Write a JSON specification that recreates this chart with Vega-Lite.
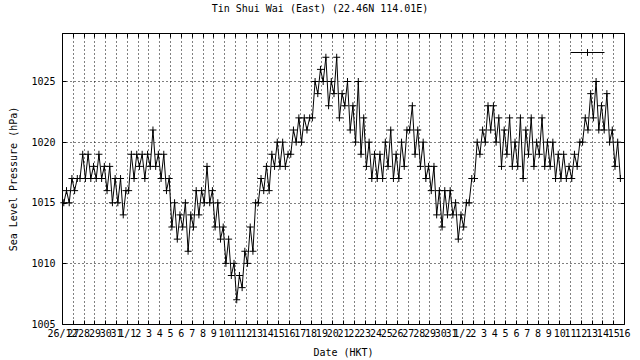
{
  "$schema": "https://vega.github.io/schema/vega-lite/v6.json",
  "width": 562,
  "height": 291,
  "autosize": {"type": "none"},
  "padding": {"left": 62, "top": 33, "right": 16, "bottom": 36},
  "background": "white",
  "title": {
    "text": "Tin Shui Wai (East) (22.46N 114.01E)",
    "font": "DejaVu Sans Mono", "fontSize": 10, "fontWeight": "normal", "color": "black",
    "anchor": "middle", "dx": -23, "offset": 11, "baseline": "alphabetic"
  },
  "config": {
    "view": {"stroke": "black", "strokeWidth": 1},
    "axis": {
      "labelFont": "DejaVu Sans Mono", "labelFontSize": 10, "labelColor": "black",
      "titleFont": "DejaVu Sans Mono", "titleFontSize": 10, "titleFontWeight": "normal", "titleColor": "black",
      "domain": false, "gridColor": "black", "gridDash": [1, 3], "gridOpacity": 1, "gridWidth": 1,
      "tickColor": "black", "tickWidth": 1
    }
  },
  "data": {"values": [
    {"t":"2023-12-26T04:00","p":1015},{"t":"2023-12-26T10:00","p":1016},{"t":"2023-12-26T16:00","p":1015},{"t":"2023-12-26T22:00","p":1017},
    {"t":"2023-12-27T04:00","p":1016},{"t":"2023-12-27T10:00","p":1017},{"t":"2023-12-27T16:00","p":1017},{"t":"2023-12-27T22:00","p":1019},
    {"t":"2023-12-28T04:00","p":1017},{"t":"2023-12-28T10:00","p":1019},{"t":"2023-12-28T16:00","p":1017},{"t":"2023-12-28T22:00","p":1018},
    {"t":"2023-12-29T04:00","p":1017},{"t":"2023-12-29T10:00","p":1019},{"t":"2023-12-29T16:00","p":1017},{"t":"2023-12-29T22:00","p":1018},
    {"t":"2023-12-30T04:00","p":1016},{"t":"2023-12-30T10:00","p":1018},{"t":"2023-12-30T16:00","p":1015},{"t":"2023-12-30T22:00","p":1017},
    {"t":"2023-12-31T04:00","p":1015},{"t":"2023-12-31T10:00","p":1017},{"t":"2023-12-31T16:00","p":1014},{"t":"2023-12-31T22:00","p":1016},
    {"t":"2024-01-01T04:00","p":1016},{"t":"2024-01-01T10:00","p":1019},{"t":"2024-01-01T16:00","p":1017},{"t":"2024-01-01T22:00","p":1019},
    {"t":"2024-01-02T04:00","p":1018},{"t":"2024-01-02T10:00","p":1019},{"t":"2024-01-02T16:00","p":1017},{"t":"2024-01-02T22:00","p":1019},
    {"t":"2024-01-03T04:00","p":1018},{"t":"2024-01-03T10:00","p":1021},{"t":"2024-01-03T16:00","p":1018},{"t":"2024-01-03T22:00","p":1019},
    {"t":"2024-01-04T04:00","p":1017},{"t":"2024-01-04T10:00","p":1019},{"t":"2024-01-04T16:00","p":1016},{"t":"2024-01-04T22:00","p":1017},
    {"t":"2024-01-05T04:00","p":1013},{"t":"2024-01-05T10:00","p":1015},{"t":"2024-01-05T16:00","p":1012},{"t":"2024-01-05T22:00","p":1014},
    {"t":"2024-01-06T04:00","p":1013},{"t":"2024-01-06T10:00","p":1015},{"t":"2024-01-06T16:00","p":1011},{"t":"2024-01-06T22:00","p":1014},
    {"t":"2024-01-07T04:00","p":1013},{"t":"2024-01-07T10:00","p":1016},{"t":"2024-01-07T16:00","p":1014},{"t":"2024-01-07T22:00","p":1016},
    {"t":"2024-01-08T04:00","p":1015},{"t":"2024-01-08T10:00","p":1018},{"t":"2024-01-08T16:00","p":1015},{"t":"2024-01-08T22:00","p":1016},
    {"t":"2024-01-09T04:00","p":1013},{"t":"2024-01-09T10:00","p":1015},{"t":"2024-01-09T16:00","p":1012},{"t":"2024-01-09T22:00","p":1013},
    {"t":"2024-01-10T04:00","p":1010},{"t":"2024-01-10T10:00","p":1012},{"t":"2024-01-10T16:00","p":1009},{"t":"2024-01-10T22:00","p":1010},
    {"t":"2024-01-11T04:00","p":1007},{"t":"2024-01-11T10:00","p":1009},{"t":"2024-01-11T16:00","p":1008},{"t":"2024-01-11T22:00","p":1011},
    {"t":"2024-01-12T04:00","p":1010},{"t":"2024-01-12T10:00","p":1013},{"t":"2024-01-12T16:00","p":1011},{"t":"2024-01-12T22:00","p":1015},
    {"t":"2024-01-13T04:00","p":1015},{"t":"2024-01-13T10:00","p":1017},{"t":"2024-01-13T16:00","p":1016},{"t":"2024-01-13T22:00","p":1018},
    {"t":"2024-01-14T04:00","p":1016},{"t":"2024-01-14T10:00","p":1019},{"t":"2024-01-14T16:00","p":1018},{"t":"2024-01-14T22:00","p":1020},
    {"t":"2024-01-15T04:00","p":1018},{"t":"2024-01-15T10:00","p":1020},{"t":"2024-01-15T16:00","p":1018},{"t":"2024-01-15T22:00","p":1019},
    {"t":"2024-01-16T04:00","p":1019},{"t":"2024-01-16T10:00","p":1021},{"t":"2024-01-16T16:00","p":1020},{"t":"2024-01-16T22:00","p":1022},
    {"t":"2024-01-17T04:00","p":1020},{"t":"2024-01-17T10:00","p":1022},{"t":"2024-01-17T16:00","p":1021},{"t":"2024-01-17T22:00","p":1022},
    {"t":"2024-01-18T04:00","p":1022},{"t":"2024-01-18T10:00","p":1025},{"t":"2024-01-18T16:00","p":1024},{"t":"2024-01-18T22:00","p":1026},
    {"t":"2024-01-19T04:00","p":1025},{"t":"2024-01-19T10:00","p":1027},{"t":"2024-01-19T16:00","p":1023},{"t":"2024-01-19T22:00","p":1025},
    {"t":"2024-01-20T04:00","p":1024},{"t":"2024-01-20T10:00","p":1027},{"t":"2024-01-20T16:00","p":1022},{"t":"2024-01-20T22:00","p":1024},
    {"t":"2024-01-21T04:00","p":1023},{"t":"2024-01-21T10:00","p":1025},{"t":"2024-01-21T16:00","p":1021},{"t":"2024-01-21T22:00","p":1023},
    {"t":"2024-01-22T04:00","p":1020},{"t":"2024-01-22T10:00","p":1025},{"t":"2024-01-22T16:00","p":1019},{"t":"2024-01-22T22:00","p":1022},
    {"t":"2024-01-23T04:00","p":1018},{"t":"2024-01-23T10:00","p":1020},{"t":"2024-01-23T16:00","p":1017},{"t":"2024-01-23T22:00","p":1019},
    {"t":"2024-01-24T04:00","p":1017},{"t":"2024-01-24T10:00","p":1019},{"t":"2024-01-24T16:00","p":1017},{"t":"2024-01-24T22:00","p":1020},
    {"t":"2024-01-25T04:00","p":1018},{"t":"2024-01-25T10:00","p":1021},{"t":"2024-01-25T16:00","p":1017},{"t":"2024-01-25T22:00","p":1019},
    {"t":"2024-01-26T04:00","p":1017},{"t":"2024-01-26T10:00","p":1020},{"t":"2024-01-26T16:00","p":1018},{"t":"2024-01-26T22:00","p":1021},
    {"t":"2024-01-27T04:00","p":1021},{"t":"2024-01-27T10:00","p":1023},{"t":"2024-01-27T16:00","p":1019},{"t":"2024-01-27T22:00","p":1021},
    {"t":"2024-01-28T04:00","p":1018},{"t":"2024-01-28T10:00","p":1020},{"t":"2024-01-28T16:00","p":1017},{"t":"2024-01-28T22:00","p":1018},
    {"t":"2024-01-29T04:00","p":1016},{"t":"2024-01-29T10:00","p":1018},{"t":"2024-01-29T16:00","p":1014},{"t":"2024-01-29T22:00","p":1016},
    {"t":"2024-01-30T04:00","p":1013},{"t":"2024-01-30T10:00","p":1016},{"t":"2024-01-30T16:00","p":1014},{"t":"2024-01-30T22:00","p":1016},
    {"t":"2024-01-31T04:00","p":1014},{"t":"2024-01-31T10:00","p":1015},{"t":"2024-01-31T16:00","p":1012},{"t":"2024-01-31T22:00","p":1014},
    {"t":"2024-02-01T04:00","p":1013},{"t":"2024-02-01T10:00","p":1015},{"t":"2024-02-01T16:00","p":1015},{"t":"2024-02-01T22:00","p":1017},
    {"t":"2024-02-02T04:00","p":1017},{"t":"2024-02-02T10:00","p":1020},{"t":"2024-02-02T16:00","p":1019},{"t":"2024-02-02T22:00","p":1021},
    {"t":"2024-02-03T04:00","p":1020},{"t":"2024-02-03T10:00","p":1023},{"t":"2024-02-03T16:00","p":1021},{"t":"2024-02-03T22:00","p":1023},
    {"t":"2024-02-04T04:00","p":1020},{"t":"2024-02-04T10:00","p":1022},{"t":"2024-02-04T16:00","p":1018},{"t":"2024-02-04T22:00","p":1021},
    {"t":"2024-02-05T04:00","p":1019},{"t":"2024-02-05T10:00","p":1022},{"t":"2024-02-05T16:00","p":1018},{"t":"2024-02-05T22:00","p":1020},
    {"t":"2024-02-06T04:00","p":1018},{"t":"2024-02-06T10:00","p":1022},{"t":"2024-02-06T16:00","p":1017},{"t":"2024-02-06T22:00","p":1021},
    {"t":"2024-02-07T04:00","p":1019},{"t":"2024-02-07T10:00","p":1022},{"t":"2024-02-07T16:00","p":1018},{"t":"2024-02-07T22:00","p":1020},
    {"t":"2024-02-08T04:00","p":1019},{"t":"2024-02-08T10:00","p":1022},{"t":"2024-02-08T16:00","p":1018},{"t":"2024-02-08T22:00","p":1020},
    {"t":"2024-02-09T04:00","p":1018},{"t":"2024-02-09T10:00","p":1020},{"t":"2024-02-09T16:00","p":1017},{"t":"2024-02-09T22:00","p":1019},
    {"t":"2024-02-10T04:00","p":1017},{"t":"2024-02-10T10:00","p":1019},{"t":"2024-02-10T16:00","p":1017},{"t":"2024-02-10T22:00","p":1018},
    {"t":"2024-02-11T04:00","p":1017},{"t":"2024-02-11T10:00","p":1019},{"t":"2024-02-11T16:00","p":1018},{"t":"2024-02-11T22:00","p":1020},
    {"t":"2024-02-12T04:00","p":1020},{"t":"2024-02-12T10:00","p":1022},{"t":"2024-02-12T16:00","p":1021},{"t":"2024-02-12T22:00","p":1024},
    {"t":"2024-02-13T04:00","p":1022},{"t":"2024-02-13T10:00","p":1025},{"t":"2024-02-13T16:00","p":1021},{"t":"2024-02-13T22:00","p":1023},
    {"t":"2024-02-14T04:00","p":1021},{"t":"2024-02-14T10:00","p":1024},{"t":"2024-02-14T16:00","p":1020},{"t":"2024-02-14T22:00","p":1021},
    {"t":"2024-02-15T04:00","p":1018},{"t":"2024-02-15T10:00","p":1020},{"t":"2024-02-15T16:00","p":1017}
  ]},
  "layer": [
    {
      "mark": {"type": "line", "color": "black", "strokeWidth": 1, "interpolate": "linear"},
      "encoding": {
        "x": {
          "field": "t", "type": "temporal",
          "scale": {"domain": [{"year": 2023, "month": 12, "date": 26}, {"year": 2024, "month": 2, "date": 16}], "nice": false},
          "axis": {
            "orient": "bottom", "title": "Date (HKT)", "titlePadding": 9,
            "tickCount": {"interval": "day", "step": 1},
            "labelExpr": "(date(datum.value) == 1 || (month(datum.value) == 11 && date(datum.value) == 26)) ? timeFormat(datum.value, '%-d/%-m') : timeFormat(datum.value, '%-d')",
            "labelOverlap": false, "labelFlush": false, "labelBound": false, "labelAngle": 0,
            "grid": true, "ticks": true, "tickSize": -4, "labelPadding": 8
          }
        },
        "y": {
          "field": "p", "type": "quantitative",
          "scale": {"domain": [1005, 1029], "nice": false, "zero": false},
          "axis": {
            "orient": "left", "title": "Sea Level Pressure (hPa)", "titlePadding": 12,
            "values": [1005, 1010, 1015, 1020, 1025], "format": "d",
            "grid": true, "ticks": true, "tickSize": -4, "labelPadding": 11
          }
        },
        "color": {
          "datum": "P",
          "scale": {"range": ["black"]},
          "legend": {
            "orient": "none", "legendX": 508, "legendY": 2, "title": null,
            "labelExpr": "''", "symbolType": "M-1,0H1M0,-0.2V0.2", "symbolSize": 1156,
            "symbolStrokeColor": "black", "symbolStrokeWidth": 1, "symbolFillColor": "transparent",
            "padding": 0
          }
        }
      }
    },
    {
      "mark": {"type": "point", "shape": "M-1,0H1M0,-1V1", "filled": false, "stroke": "black", "strokeWidth": 1, "size": 49, "opacity": 1},
      "encoding": {
        "x": {"field": "t", "type": "temporal", "axis": {"orient": "top", "labels": false, "title": null, "grid": false, "tickCount": {"interval": "day", "step": 1}, "tickSize": -4}},
        "y": {"field": "p", "type": "quantitative", "axis": {"orient": "right", "labels": false, "title": null, "grid": false, "values": [1005, 1010, 1015, 1020, 1025], "tickSize": -4}}
      }
    }
  ],
  "resolve": {"axis": {"x": "independent", "y": "independent"}}
}
